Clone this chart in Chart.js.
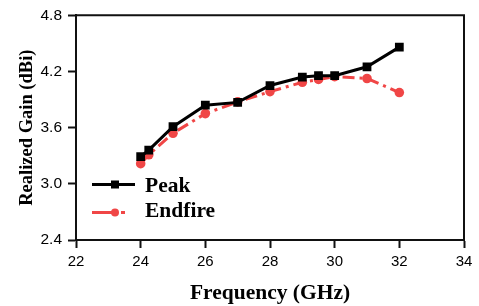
<!DOCTYPE html>
<html>
<head>
<meta charset="utf-8">
<script src="https://cdn.jsdelivr.net/npm/chart.js@4.4.1/dist/chart.umd.min.js"></script>
<style>
html,body{margin:0;padding:0;background:#fff;}
#c{display:block;}
</style>
</head>
<body>
<canvas id="c" width="479" height="306"></canvas>
<script>
const freq = [24, 24.25, 25, 26, 27, 28, 29, 29.5, 30, 31, 32];
const peak = [3.29, 3.36, 3.61, 3.84, 3.87, 4.05, 4.14, 4.155, 4.155, 4.25, 4.46];
const endfire = [3.215, 3.31, 3.54, 3.75, 3.875, 3.985, 4.085, 4.115, 4.145, 4.125, 3.975];
const seriesNames = ['Peak', 'Endfire'];
const xTicks = [22, 24, 26, 28, 30, 32, 34];
const yTicks = [2.4, 3.0, 3.6, 4.2, 4.8];

const RED = 'rgb(240,70,70)';
const BLACK = '#000';
const serif = '"Liberation Serif", "Times New Roman", serif';
const sans = '"Liberation Sans", Arial, sans-serif';

const frame = {
  id: 'frame',
  beforeDatasetsDraw(chart) {
    const {ctx, chartArea: a} = chart;
    ctx.save();
    ctx.strokeStyle = '#111';
    ctx.lineWidth = 2;
    ctx.beginPath();
    ctx.moveTo(a.left, a.bottom);
    ctx.lineTo(a.left, a.top);
    ctx.lineTo(a.right, a.top);
    ctx.lineTo(a.right, a.bottom);
    ctx.stroke();
    ctx.restore();
  }
};

const legendInside = {
  id: 'legendInside',
  afterDraw(chart) {
    const {ctx} = chart;
    const items = [
      {y: 184.5, color: BLACK, dash: [], style: 'rect', text: seriesNames[0], ty: 192},
      {y: 212.5, color: RED, dash: [21, 8, 4, 30], style: 'circle', text: seriesNames[1], ty: 216.5}
    ];
    ctx.save();
    items.forEach(it => {
      ctx.strokeStyle = it.color;
      ctx.fillStyle = it.color;
      ctx.lineWidth = 3;
      ctx.setLineDash(it.dash);
      ctx.beginPath();
      ctx.moveTo(92, it.y);
      ctx.lineTo(135, it.y);
      ctx.stroke();
      ctx.setLineDash([]);
      if (it.style === 'rect') {
        ctx.fillRect(115 - 4, it.y - 4, 8, 8);
      } else {
        ctx.beginPath();
        ctx.arc(115, it.y, 4, 0, Math.PI * 2);
        ctx.fill();
      }
      ctx.fillStyle = '#000';
      ctx.font = 'bold 21.5px ' + serif;
      ctx.textBaseline = 'alphabetic';
      ctx.textAlign = 'left';
      ctx.fillText(it.text, 145, it.ty);
    });
    ctx.restore();
  }
};

new Chart(document.getElementById('c'), {
  type: 'line',
  data: {
    datasets: [
      {
        label: seriesNames[0],
        data: freq.map((f, i) => ({x: f, y: peak[i]})),
        borderColor: BLACK,
        backgroundColor: BLACK,
        borderWidth: 3,
        pointStyle: 'rect',
        pointRadius: 6.2,
        pointBorderWidth: 0,
        tension: 0
      },
      {
        label: seriesNames[1],
        data: freq.map((f, i) => ({x: f, y: endfire[i]})),
        borderColor: RED,
        backgroundColor: RED,
        borderWidth: 3,
        borderDash: [12, 5, 3, 5],
        pointStyle: 'circle',
        pointRadius: 4.8,
        pointBorderWidth: 0,
        tension: 0
      }
    ]
  },
  options: {
    responsive: false,
    animation: false,
    devicePixelRatio: 1,
    layout: {padding: {top: 12, right: 15, left: 0, bottom: 0}},
    plugins: {legend: {display: false}, tooltip: {enabled: false}},
    scales: {
      x: {
        type: 'linear',
        min: 22, max: 34,
        afterBuildTicks: s => { s.ticks = xTicks.map(v => ({value: v})); },
        afterFit: s => { s.height = 66; },
        ticks: {
          font: {family: sans, size: 15},
          color: '#000',
          padding: 5,
          maxRotation: 0,
          callback: v => String(v)
        },
        grid: {drawOnChartArea: false, tickLength: 8, tickColor: '#111', tickWidth: 2},
        border: {display: true, color: '#111', width: 2},
        title: {
          display: true,
          text: 'Frequency (GHz)',
          font: {family: serif, size: 21.5, weight: 'bold'},
          color: '#000',
          padding: {top: 0, bottom: 0}
        }
      },
      y: {
        min: 2.4, max: 4.8,
        afterBuildTicks: s => { s.ticks = yTicks.map(v => ({value: v})); },
        afterFit: s => { s.width = 76; },
        ticks: {
          font: {family: sans, size: 15.5},
          color: '#000',
          padding: 6,
          callback: v => Number(v).toFixed(1)
        },
        grid: {drawOnChartArea: false, tickLength: 8, tickColor: '#111', tickWidth: 2},
        border: {display: true, color: '#111', width: 2},
        title: {
          display: true,
          text: 'Realized Gain (dBi)',
          font: {family: serif, size: 18.5, weight: 'bold'},
          color: '#000',
          padding: {top: 16, bottom: 0}
        }
      }
    }
  },
  plugins: [frame, legendInside]
});
</script>
</body>
</html>
